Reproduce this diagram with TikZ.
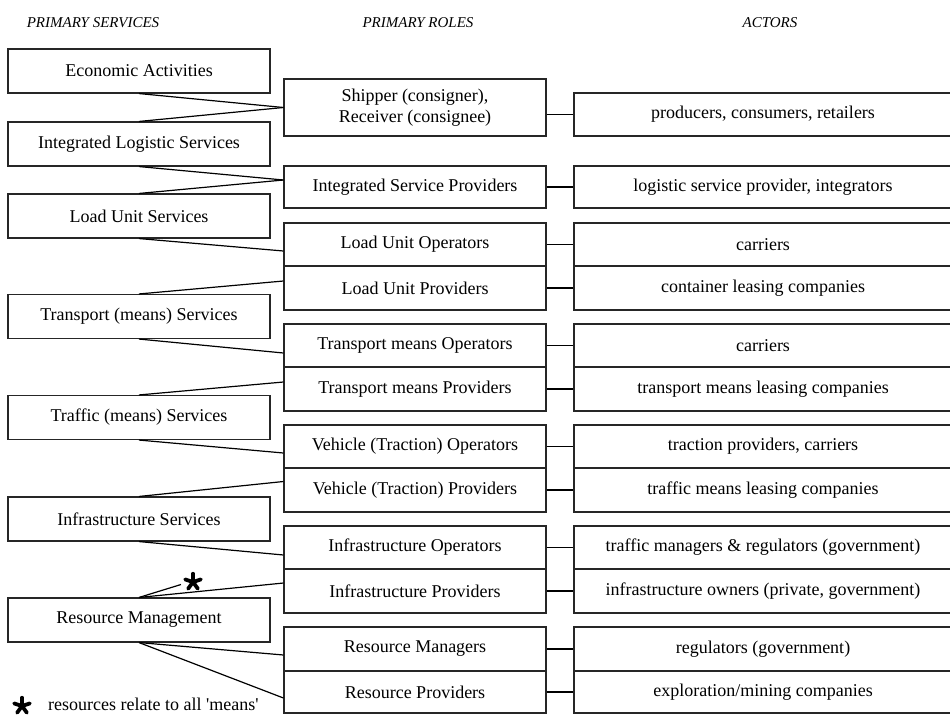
\documentclass[tikz,border=0pt]{standalone}
\usepackage{fontspec}
\setmainfont{Liberation Serif}
\begin{document}
\begin{tikzpicture}[x=1pt,y=-1pt,
  boxfont/.style={font=\fontsize{18}{21}\selectfont},
  basebox/.style={draw=black!85, line width=1.1pt, rectangle, inner sep=0pt, boxfont, align=center},
  svcbox/.style={basebox, minimum width=262pt, minimum height=44pt},
  rolebox/.style={basebox, minimum width=262pt},
  actbox/.style={basebox, minimum width=378pt},
  link/.style={draw=black, line width=1.2pt},
  header/.style={font=\fontsize{15}{18}\selectfont\itshape, inner sep=0pt, anchor=base},
  asterisk/.pic={
    \foreach \ang in {270,342,54,126,198}
      \draw[line width=3.8pt, line cap=round] (0,0) -- (\ang:8.3);
  }
]
\useasboundingbox (0,0) rectangle (950,715);
\clip (0,0) rectangle (950,715);

% column headings
\node[header] (h1) at (93,27) {PRIMARY SERVICES};
\node[header] (h2) at (418,27) {PRIMARY ROLES};
\node[header] (h3) at (770,27) {ACTORS};

% primary services
\node[svcbox] (ea)  at (139,71)    {Economic Activities};
\node[svcbox] (ils) at (139,144)   {Integrated Logistic Services};
\node[svcbox] (lus) at (139,216)   {Load Unit Services};
\node[svcbox] (tms) at (139,316.5) {Transport (means) Services};
\node[svcbox] (trs) at (139,417.5) {Traffic (means) Services};
\node[svcbox] (ins) at (139,519)   {Infrastructure Services};
\node[svcbox] (rm)  at (139,620)   {Resource Management};

% primary roles
\node[rolebox, minimum height=57pt] (sh)  at (415,107.5) {Shipper (consigner),\\Receiver (consignee)};
\node[rolebox, minimum height=42pt] (isp) at (415,187)   {Integrated Service Providers};
\node[rolebox, minimum height=43pt] (luo) at (415,244.5) {Load Unit Operators};
\node[rolebox, minimum height=44pt] (lup) at (415,288)   {Load Unit Providers};
\node[rolebox, minimum height=43pt] (tmo) at (415,345.5) {Transport means Operators};
\node[rolebox, minimum height=44pt] (tmp) at (415,389)   {Transport means Providers};
\node[rolebox, minimum height=43pt] (vto) at (415,446.5) {Vehicle (Traction) Operators};
\node[rolebox, minimum height=44pt] (vtp) at (415,490)   {Vehicle (Traction) Providers};
\node[rolebox, minimum height=43pt] (io)  at (415,547.5) {Infrastructure Operators};
\node[rolebox, minimum height=44pt] (ip)  at (415,591)   {Infrastructure Providers};
\node[rolebox, minimum height=44pt] (rmg) at (415,649)   {Resource Managers};
\node[rolebox, minimum height=42pt] (rp)  at (415,692)   {Resource Providers};

% actors
\node[actbox, minimum height=43pt] (a1)  at (763,114.5) {producers, consumers, retailers};
\node[actbox, minimum height=42pt] (a2)  at (763,187)   {logistic service provider, integrators};
\node[actbox, minimum height=43pt] (a3)  at (763,244.5) {carriers};
\node[actbox, minimum height=44pt] (a4)  at (763,288)   {container leasing companies};
\node[actbox, minimum height=43pt] (a5)  at (763,345.5) {carriers};
\node[actbox, minimum height=44pt] (a6)  at (763,389)   {transport means leasing companies};
\node[actbox, minimum height=43pt] (a7)  at (763,446.5) {traction providers, carriers};
\node[actbox, minimum height=44pt] (a8)  at (763,490)   {traffic means leasing companies};
\node[actbox, minimum height=43pt] (a9)  at (763,547.5) {traffic managers \& regulators (government)};
\node[actbox, minimum height=44pt] (a10) at (763,591)   {infrastructure owners (private, government)};
\node[actbox, minimum height=44pt] (a11) at (763,649)   {regulators (government)};
\node[actbox, minimum height=42pt] (a12) at (763,692)   {exploration/mining companies};

% services to roles
\draw[link] (ea.south)  -- (sh.west);
\draw[link] (ils.north) -- (sh.west);
\draw[link] (ils.south) -- ([yshift=7pt]isp.west);
\draw[link] (lus.north) -- ([yshift=7pt]isp.west);
\draw[link] (lus.south) -- ([yshift=-6.5pt]luo.west);
\draw[link] (tms.north) -- ([yshift=7pt]lup.west);
\draw[link] (tms.south) -- ([yshift=-7.5pt]tmo.west);
\draw[link] (trs.north) -- ([yshift=7pt]tmp.west);
\draw[link] (trs.south) -- ([yshift=-6.5pt]vto.west);
\draw[link] (ins.north) -- ([yshift=8.5pt]vtp.west);
\draw[link] (ins.south) -- ([yshift=-7.5pt]io.west);
\draw[link] (rm.north)  -- ([yshift=8pt]ip.west);
\draw[link] (rm.south)  -- ([yshift=-6pt]rmg.west);
\draw[link] (rm.south)  -- ([yshift=-6pt]rp.west);

% resources apply to every kind of means
\coordinate (starend) at (181,584.5);
\pic at (193,582) {asterisk};
\draw[link] (rm.north) -- (starend);

% roles to actors
\draw[link] (sh.east |- a1.west) -- (a1.west);
\foreach \r/\a in {isp/a2, luo/a3, lup/a4, tmo/a5, tmp/a6, vto/a7, vtp/a8, io/a9, ip/a10, rmg/a11, rp/a12}
  \draw[link] (\r.east) -- (\a.west);

% footnote
\pic at (22,706) {asterisk};
\node[boxfont, inner sep=0pt, anchor=base west] (note) at (48,710) {resources relate to all \textquotesingle means\textquotesingle};
\end{tikzpicture}
\end{document}
